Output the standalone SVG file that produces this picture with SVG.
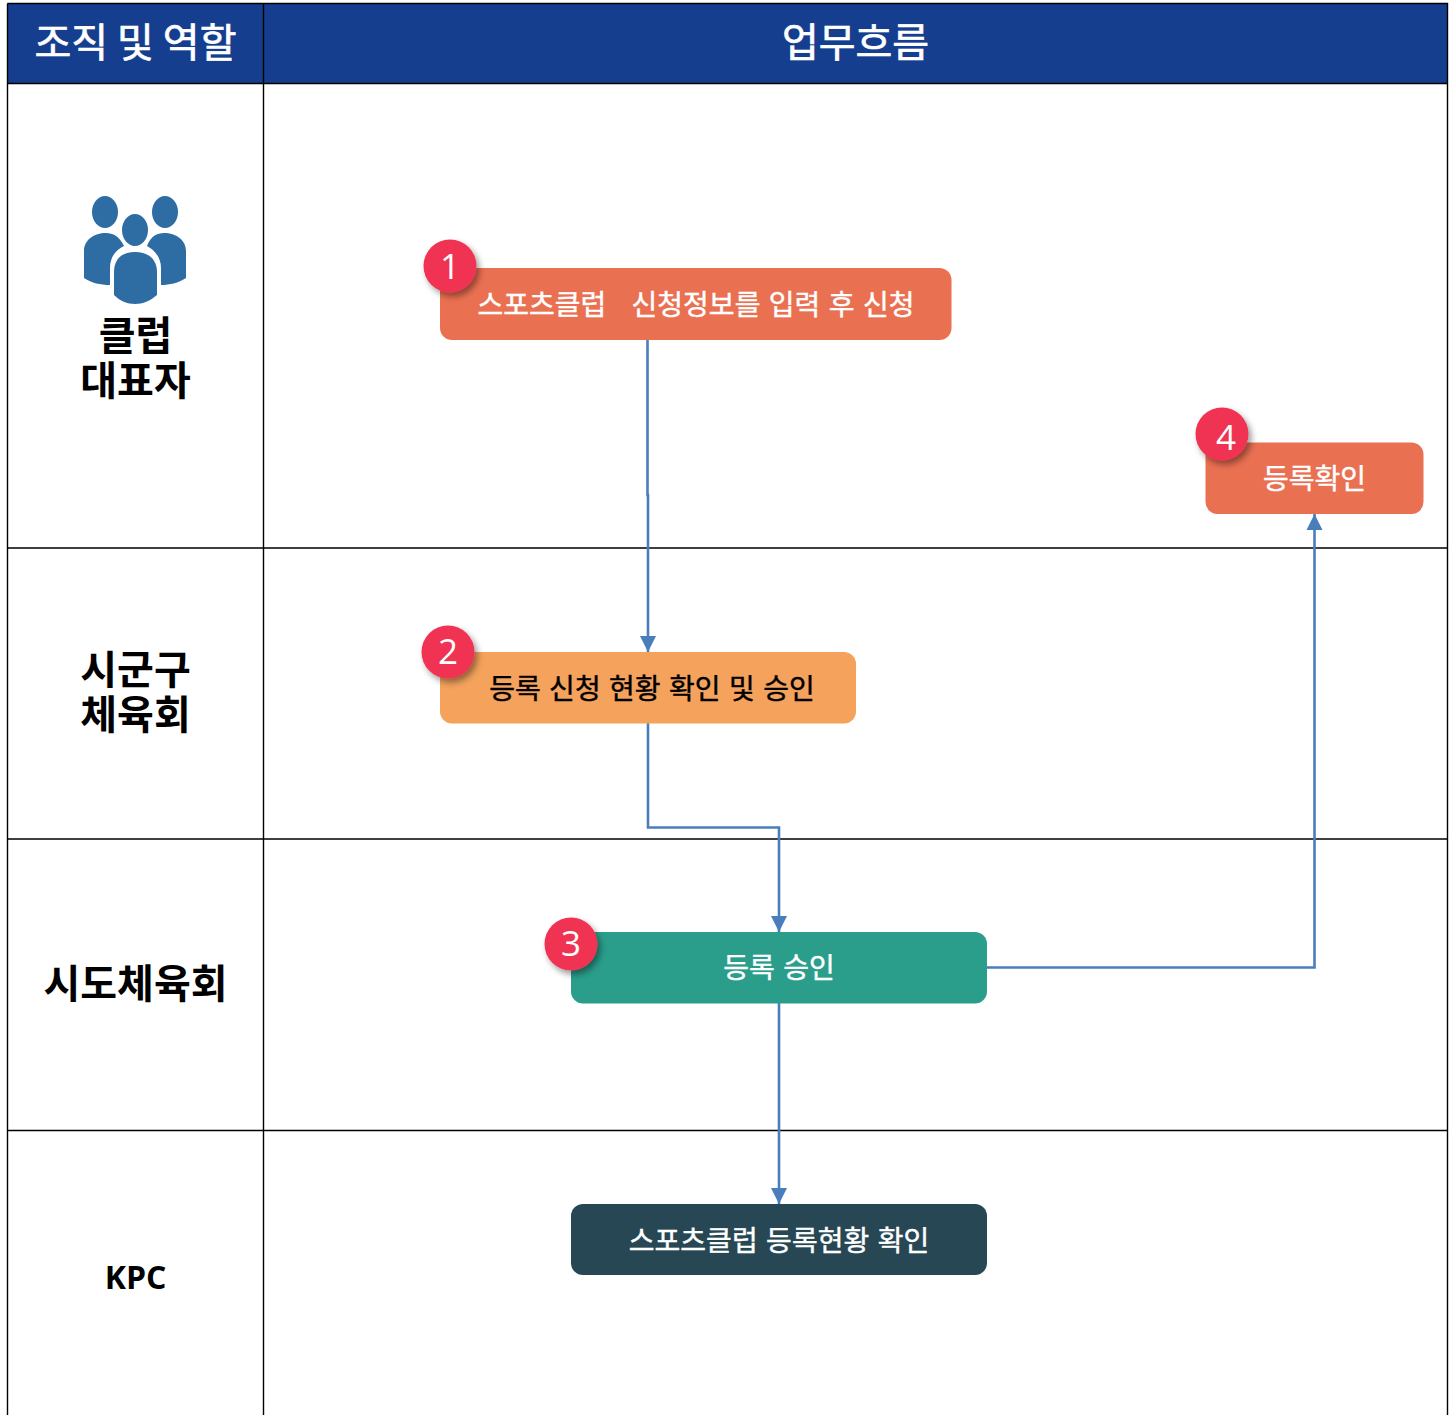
<svg xmlns="http://www.w3.org/2000/svg" width="1456" height="1415" viewBox="0 0 1456 1415">
<style>
text{font-family:"Noto Sans CJK KR","Noto Sans",sans-serif;text-anchor:middle}
.hd{font-size:40px;font-weight:400;fill:#fff;stroke:#fff;stroke-width:.7}
.role{font-size:40px;font-weight:700;fill:#000}
.box{font-size:28px;font-weight:400;fill:#fff;stroke:#fff;stroke-width:.45;word-spacing:2.2px}
.box.dark{fill:#000;stroke:#000}
.num{font-size:35px;font-weight:400;fill:#fff;font-family:"Open Sans","Noto Sans",sans-serif}
.grid{stroke:#000;stroke-width:1.4;fill:none}
.conn{stroke:#4a7ebb;stroke-width:2.6;fill:none}
.badge{fill:#f03352;filter:url(#sh)}
.icon{fill:#2e6ca4}
</style>
<defs>
<filter id="sh" x="-30%" y="-30%" width="170%" height="170%"><feDropShadow dx="3" dy="4" stdDeviation="3" flood-color="#000" flood-opacity="0.4"/></filter>
<marker id="arr" markerUnits="userSpaceOnUse" markerWidth="18" markerHeight="18" refX="16" refY="9" orient="auto"><path d="M0 1L16 9L0 17Z" fill="#4a7ebb"/></marker>
</defs>
<rect width="1456" height="1415" fill="#fff"/>
<g id="table">
<rect x="7.500" y="3.500" width="1440" height="80" fill="#153e8f"/>
<path class="grid" d="M7.500 3.500H1447.500V1415M7.500 3.500V1415M263.500 3.500V1415M7.500 83.500H1447.500M7.500 548H1447.500M7.500 839H1447.500M7.500 1130.500H1447.500"/>
</g>
<g id="header-role"><text class="hd" x="135.500" y="57">조직 및 역할</text></g>
<g id="header-flow"><text class="hd" x="855.500" y="57">업무흐름</text></g>
<g id="role-club">
<g class="icon">
<ellipse cx="105" cy="212" rx="13" ry="16"/><ellipse cx="165" cy="212" rx="13" ry="16"/><ellipse cx="135" cy="230" rx="13" ry="16"/>
<path d="M84 278V251C84 240 94 233 106 233C113 233 119 236 124 246C115 250 110 258 110 268V285C100 285 92 283 84 278Z"/>
<path d="M186 278V251C186 240 176 233 164 233C157 233 151 236 147 246C155 250 161 258 161 268V285C170 285 178 283 186 278Z"/>
<path d="M114 295V272C114 259 122 252 135 252C148 252 157 259 157 272V295C150 301 143 304 135 304C127 304 120 301 114 295Z"/>
</g>
<text class="role"><tspan x="135.500" y="350">클럽</tspan><tspan x="135.500" y="395">대표자</tspan></text>
</g>
<g id="role-sigungu">
<text class="role"><tspan x="135.500" y="684">시군구</tspan><tspan x="135.500" y="729">체육회</tspan></text>
</g>
<g id="role-sido"><text class="role" x="135.500" y="998">시도체육회</text></g>
<g id="role-kpc"><text x="135.500" y="1289" style="font-size:32px;font-weight:700;font-family:'Open Sans','Noto Sans',sans-serif">KPC</text></g>
<g id="connectors">
<path class="conn" d="M647.500 340V495H648V652" marker-end="url(#arr)"/>
<path class="conn" d="M648 723V827.500H779V932" marker-end="url(#arr)"/>
<path class="conn" d="M779 1003V1204" marker-end="url(#arr)"/>
<path class="conn" d="M987 967.500H1314.500V514" marker-end="url(#arr)"/>
</g>
<g id="node-1">
<rect x="440" y="268" width="511.500" height="72" rx="12" fill="#ea7052"/>
<text class="box" x="696" y="315" xml:space="preserve">스포츠클럽   신청정보를 입력 후 신청</text>
<circle class="badge" cx="450" cy="266" r="26.500"/><text class="num" x="450" y="279">1</text>
</g>
<g id="node-2">
<rect x="440" y="652" width="416" height="71.500" rx="12" fill="#f4a25c"/>
<text class="box dark" x="652" y="699">등록 신청 현황 확인 및 승인</text>
<circle class="badge" cx="448" cy="652" r="26.500"/><text class="num" x="448" y="664">2</text>
</g>
<g id="node-3">
<rect x="571" y="932" width="416" height="71.500" rx="12" fill="#2a9d8b"/>
<text class="box" x="779" y="978">등록 승인</text>
<circle class="badge" cx="571" cy="944" r="26.500"/><text class="num" x="571" y="956">3</text>
</g>
<g id="node-4">
<rect x="1205.500" y="442.500" width="218" height="71.500" rx="12" fill="#ea7052"/>
<text class="box" x="1314.500" y="489">등록확인</text>
<circle class="badge" cx="1222" cy="434" r="26.500"/><text class="num" x="1226" y="450">4</text>
</g>
<g id="node-5">
<rect x="571" y="1204" width="416" height="71" rx="12" fill="#264753"/>
<text class="box" x="779" y="1251">스포츠클럽 등록현황 확인</text>
</g>
</svg>
